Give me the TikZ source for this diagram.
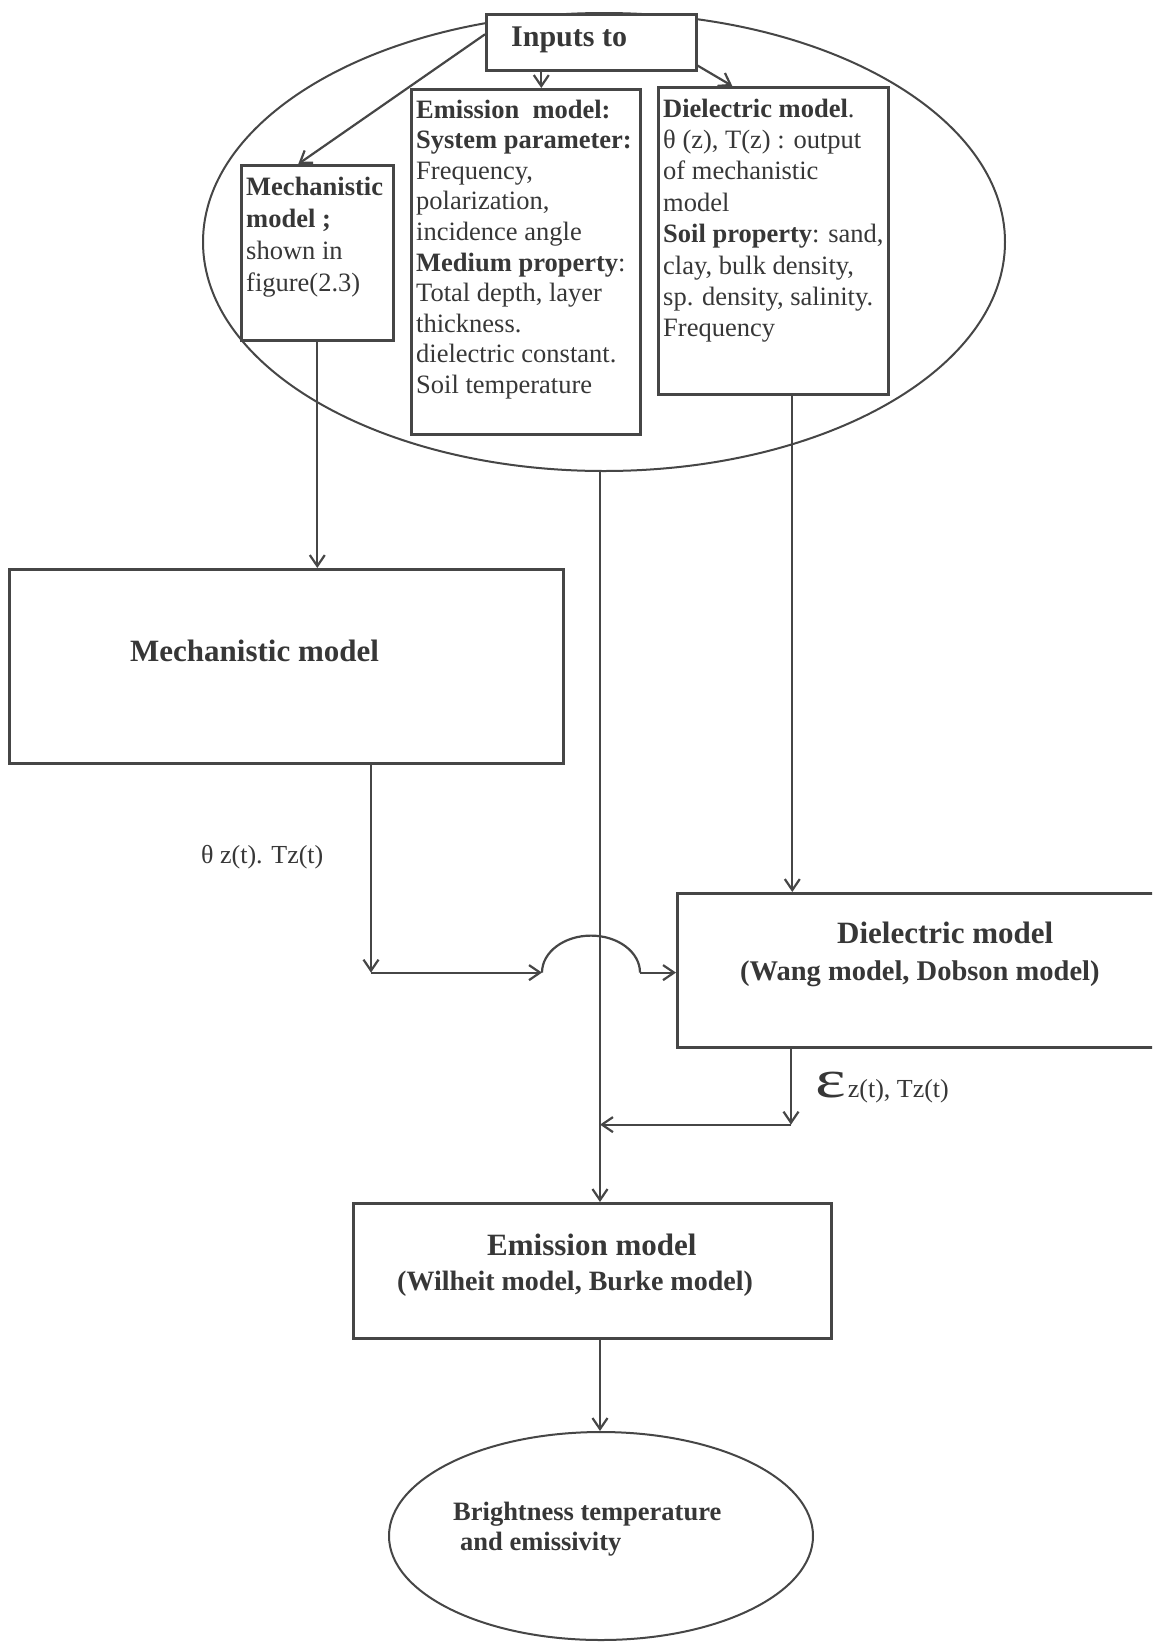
\documentclass[tikz,border=0pt]{standalone}
\usepackage{fontspec}
\setmainfont{Liberation Serif}
\usepackage{graphicx}
\usetikzlibrary{arrows.meta,calc,shapes.geometric}
\definecolor{ink}{RGB}{55,55,55}
\definecolor{lc}{RGB}{70,70,70}
\newcommand{\mystack}[1]{\vtop{\halign{##\hfil\cr#1\crcr}}}
\begin{document}
\begin{tikzpicture}[x=1pt,y=-1pt,
  box/.style={draw=lc, line width=2.6pt, rectangle, inner sep=0pt, anchor=north west},
  oval/.style={draw=lc, line width=2pt, ellipse, inner sep=0pt},
  conn/.style={draw=lc, line width=2.2pt},
  arr/.style={conn, -{Straight Barb[length=11pt,width=15pt]}},
  txt/.style={text=ink, inner sep=0pt, anchor=base west},
  boxtxt/.style={txt, font=\fontsize{26.5}{31}\selectfont},
]
\clip (0,0) rectangle (1152,1642);
\fill[white] (0,0) rectangle (1152,1642);

% shapes
\node[oval, minimum width=802pt, minimum height=458pt] (inell) at (604,242) {};
\node[box, fill=white, minimum width=210pt, minimum height=56pt] (inputs) at (485,13) {};
\node[box, minimum width=152pt, minimum height=175pt] (mechin) at (240,164) {};
\node[box, minimum width=229pt, minimum height=345pt] (emin) at (410,88) {};
\node[box, minimum width=230pt, minimum height=307pt] (diein) at (657,86) {};
\node[box, minimum width=554pt, minimum height=194pt] (mech) at (8,568) {};
\node[box, minimum width=520pt, minimum height=154pt] (diel) at (676,892) {};
\node[box, minimum width=478pt, minimum height=135pt] (emis) at (352,1202) {};
\node[oval, minimum width=424pt, minimum height=208pt] (bright) at (601,1536) {};

% texts
\node[txt, font=\fontsize{30}{32}\selectfont\bfseries] (tinputs) at (511,46) {Inputs to};
\node[boxtxt, font=\fontsize{26.5}{32}\selectfont] (tmechin) at (246,195)
  {\mystack{\textbf{Mechanistic}\cr\textbf{model ;}\cr shown in\cr figure(2.3)}};
\node[boxtxt, font=\fontsize{26.5}{30.6}\selectfont] (temin) at (416,118)
  {\mystack{\textbf{Emission\ \ model:}\cr
   \textbf{System parameter:}\cr
   Frequency,\cr
   polarization,\cr
   incidence angle\cr
   \textbf{Medium property}:\cr
   Total depth, layer\cr
   thickness.\cr
   dielectric constant.\cr
   Soil temperature}};
\node[boxtxt, font=\fontsize{26.5}{31.4}\selectfont] (tdiein) at (663,117)
  {\mystack{\textbf{Dielectric model}.\cr
   θ (z), T(z) : output\cr
   of mechanistic\cr
   model\cr
   \textbf{Soil property}: sand,\cr
   clay, bulk density,\cr
   sp. density, salinity.\cr
   Frequency}};
\node[txt, font=\fontsize{31}{33}\selectfont\bfseries] (tmech) at (130,661) {Mechanistic model};
\node[txt, font=\fontsize{31}{33}\selectfont\bfseries] (tdiel1) at (837,943) {Dielectric model};
\node[txt, font=\fontsize{28.5}{30}\selectfont\bfseries] (tdiel2) at (740,980) {(Wang model, Dobson model)};
\node[txt, font=\fontsize{31}{33}\selectfont\bfseries] (temis1) at (487,1255) {Emission model};
\node[txt, font=\fontsize{28}{30}\selectfont\bfseries] (temis2) at (397,1290) {(Wilheit model, Burke model)};
\node[txt, font=\fontsize{26.5}{28}\selectfont\bfseries] (tbr1) at (453,1520) {Brightness temperature};
\node[txt, font=\fontsize{26.5}{28}\selectfont\bfseries] (tbr2) at (460,1550) {and emissivity};
\node[txt, font=\fontsize{26}{28}\selectfont] (thetalab) at (201,863) {θ z(t). Tz(t)};
\node[txt, font=\fontsize{26}{28}\selectfont] (epslab) at (815,1097)
  {\scalebox{1.35}[1]{\fontsize{54}{54}\selectfont ε}\hspace{2pt}z(t), Tz(t)};

% connectors
\coordinate (a1) at ($(inputs.west)+(0,-8)$);
\coordinate (a1e) at ($(mechin.north)+(-19,0)$);
\draw[arr] (a1) -- (a1e);
\coordinate (a2) at ($(inputs.south)+(-50,0)$);
\draw[arr] (a2) -- (a2 |- emin.north);
\coordinate (a3) at ($(inputs.south east)+(0,-6)$);
\coordinate (a3e) at ($(diein.north)+(-41,0)$);
\draw[arr] (a3) -- (a3e);
\draw[arr] (mechin.south) -- (mechin.south |- mech.north);

\coordinate (m1) at ($(mech.south west)+(363,0)$);
\coordinate (m2) at ($(m1)+(0,208)$);
\coordinate (hopL) at ($(m2)+(171,0)$);
\coordinate (hopR) at ($(hopL)+(98,0)$);
\draw[arr] (m1) -- (m2);
\draw[arr] (m2) -- (hopL);
\draw[conn] (hopL) arc[start angle=180,end angle=0,x radius=49pt,y radius=37pt];
\draw[arr] (hopR) -- (hopR -| diel.west);

\coordinate (d1) at ($(diein.south)+(19,0)$);
\draw[arr] (d1) -- (d1 |- diel.north);
\coordinate (d2) at ($(diel.south west)+(115,0)$);
\coordinate (d3) at ($(d2)+(0,76)$);
\coordinate (v1) at ($(inell.south)+(-4,0)$);
\draw[arr] (d2) -- (d3);
\draw[arr] (d3) -- (d3 -| v1);
\draw[arr] (v1) -- (v1 |- emis.north);
\draw[arr] (v1 |- emis.south) -- (v1 |- bright.north);
\end{tikzpicture}
\end{document}
